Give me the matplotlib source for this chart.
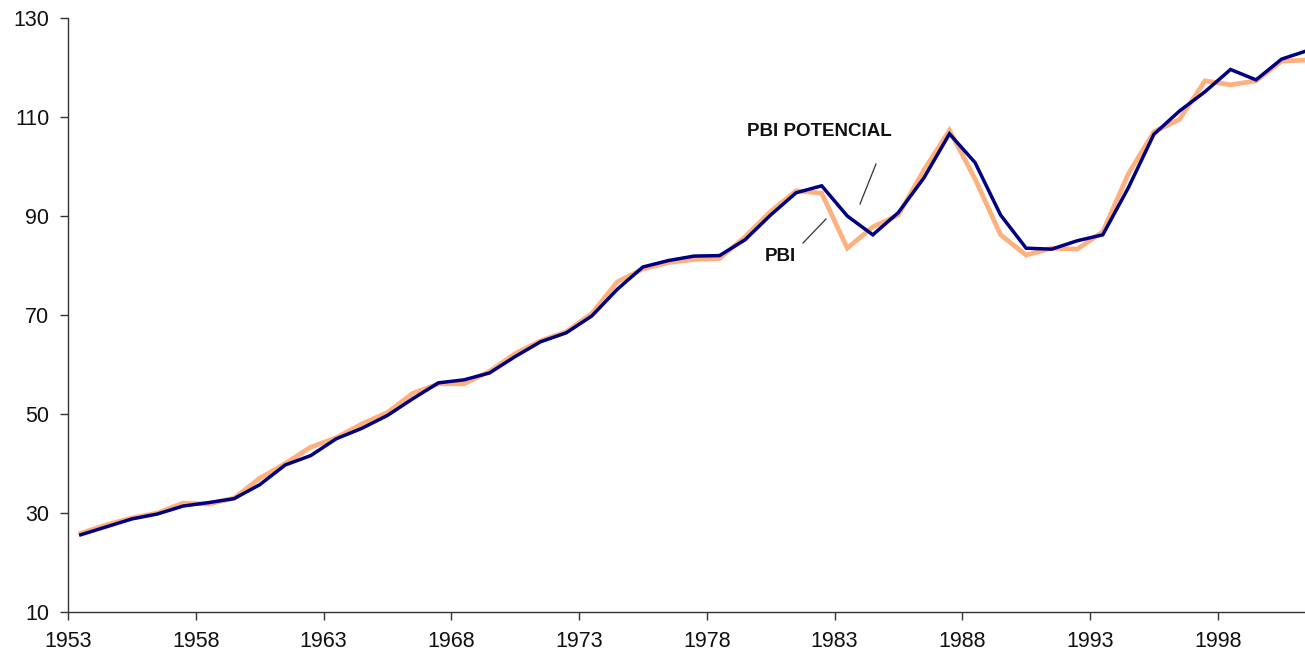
import matplotlib
matplotlib.use("Agg")
import matplotlib.pyplot as plt
import numpy as np

years = list(range(1953, 2002))
pbi_potencial = [25.6, 27.2, 28.8, 29.8, 31.4, 32.1, 32.9, 35.7, 39.7, 41.6,
                 45.0, 47.1, 49.7, 53.1, 56.3, 56.9, 58.3, 61.6, 64.6, 66.4,
                 69.8, 75.2, 79.7, 81.0, 81.9, 82.0, 85.2, 90.2, 94.7, 96.1,
                 90.0, 86.2, 90.7, 97.7, 106.6, 100.8, 90.2, 83.5, 83.3, 85.0,
                 86.2, 95.7, 106.5, 111.2, 115.1, 119.6, 117.5, 121.7, 123.4]
pbi = [25.9, 27.6, 29.0, 30.0, 32.0, 31.8, 33.0, 37.0, 40.0, 43.3,
       45.2, 48.0, 50.3, 54.2, 56.1, 56.1, 58.6, 62.2, 64.8, 66.6,
       70.3, 76.7, 79.3, 80.6, 81.2, 81.4, 85.8, 90.9, 95.1, 94.6,
       83.5, 87.8, 90.2, 99.3, 107.3, 97.5, 86.2, 82.1, 83.5, 83.3,
       86.8, 98.5, 107.0, 109.5, 117.3, 116.5, 117.3, 121.3, 121.5]
tick_years = [1953, 1958, 1963, 1968, 1973, 1978, 1983, 1988, 1993, 1998]
yticks = [10, 30, 50, 70, 90, 110, 130]

W, H = 1305, 655
fig = plt.figure(figsize=(W / 100, H / 100), dpi=100)
ax = fig.add_axes([68 / W, (H - 612) / H, (W - 68) / W, (612 - 18) / H])

x = np.arange(len(years)) + 0.5
ax.plot(x, pbi, color="#FFB07F", lw=3.4, solid_joinstyle="miter", zorder=2)
ax.plot(x, pbi_potencial, color="#000080", lw=2.5, solid_joinstyle="miter", zorder=3)

ax.set_xlim(0, (W - 68) / 25.55)
ax.set_ylim(10, 130)
ax.set_yticks(yticks)
ax.set_xticks([y - 1953 for y in tick_years])
ax.set_xticklabels([str(y) for y in tick_years])

for s in ["top", "right"]:
    ax.spines[s].set_visible(False)
for s in ["left", "bottom"]:
    ax.spines[s].set_color("#333333")
    ax.spines[s].set_linewidth(1.0)
ax.tick_params(axis="both", direction="out", length=6, width=1.0, color="#333333",
               labelsize=15.5, labelcolor="#111111")
ax.tick_params(axis="y", pad=7.5)
ax.tick_params(axis="x", pad=8)
for lab in ax.get_xticklabels() + ax.get_yticklabels():
    lab.set_family("Liberation Sans")

def px(xp, yp):
    return fig.transFigure.inverted().transform(fig.dpi_scale_trans.transform((xp / 100, (H - yp) / 100)))

tx, ty = px(819, 131)
fig.text(tx, ty, "PBI POTENCIAL", ha="center", va="center", fontsize=13.5,
         fontweight="bold", family="Liberation Sans", color="#111111")
tx, ty = px(780, 256)
fig.text(tx, ty, "PBI", ha="center", va="center", fontsize=13.5,
         fontweight="bold", family="Liberation Sans", color="#111111")

for (x1, y1, x2, y2) in [(876, 164, 860, 204), (803, 243, 826, 219)]:
    a = px(x1, y1); b = px(x2, y2)
    fig.add_artist(plt.Line2D([a[0], b[0]], [a[1], b[1]], transform=fig.transFigure,
                              color="#333333", lw=0.9))

fig.savefig("out.png", dpi=100)
